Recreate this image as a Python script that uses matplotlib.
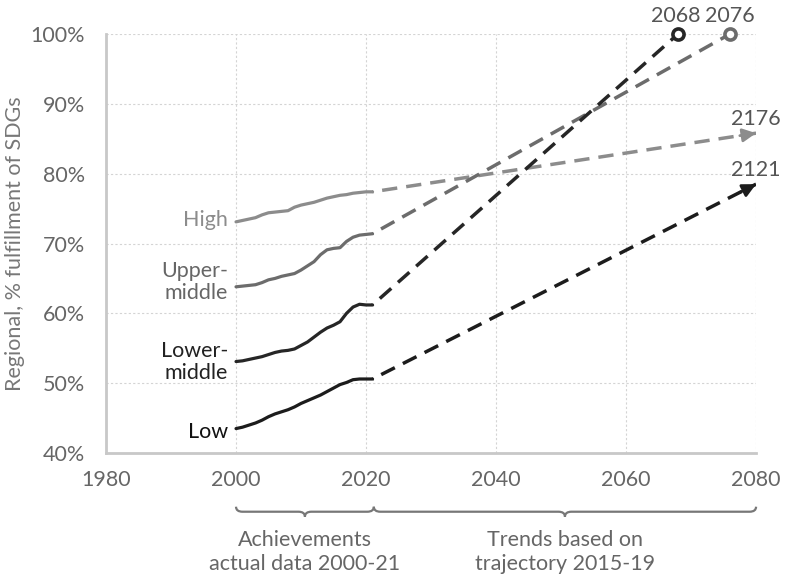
import matplotlib
matplotlib.use("Agg")
import matplotlib.pyplot as plt
from matplotlib.path import Path
from matplotlib.patches import PathPatch
from matplotlib.transforms import blended_transform_factory
import numpy as np

plt.rcParams['font.family'] = ['Lato', 'DejaVu Sans']

# actual data 2000-21
years = np.arange(2000, 2022)
high = [73.1, 73.3, 73.5, 73.7, 74.1, 74.4, 74.5, 74.6, 74.7, 75.2, 75.5,
        75.7, 75.9, 76.2, 76.5, 76.7, 76.9, 77.0, 77.2, 77.3, 77.4, 77.4]
upper_middle = [63.8, 63.9, 64.0, 64.1, 64.4, 64.8, 65.0, 65.3, 65.5, 65.7, 66.2,
                66.8, 67.4, 68.4, 69.1, 69.3, 69.4, 70.3, 70.9, 71.2, 71.3, 71.4]
lower_middle = [53.1, 53.2, 53.4, 53.6, 53.8, 54.1, 54.4, 54.6, 54.7, 54.9, 55.4,
                55.9, 56.6, 57.3, 57.9, 58.3, 58.8, 60.0, 60.9, 61.3, 61.2, 61.2]
low = [43.5, 43.7, 44.0, 44.3, 44.7, 45.2, 45.6, 45.9, 46.2, 46.6, 47.1,
       47.5, 47.9, 48.3, 48.8, 49.3, 49.8, 50.1, 50.5, 50.6, 50.6, 50.6]

# trend projections (end point of the dashed line) and year SDGs reached
group_names = ["High", "Upper-\nmiddle", "Lower-\nmiddle", "Low"]
series = [high, upper_middle, lower_middle, low]
proj_end_year = [2080, 2076, 2068, 2080]
proj_end_value = [85.8, 100.0, 100.0, 78.5]
reach_year = ["2176", "2076", "2068", "2121"]
colors = ["#8c8c8c", "#6c6c6c", "#262626", "#1c1c1c"]
label_colors = ["#8c8c8c", "#666666", "#222222", "#111111"]
label_y = [73.3, 64.5, 53.0, 43.0]

FS = 15.5

fig = plt.figure(figsize=(7.87, 5.76), dpi=100)
ax = fig.add_axes([0.1347, 0.2135, 0.826, 0.7275])

for vals, end_x, end_y, reach, c in zip(series, proj_end_year, proj_end_value, reach_year, colors):
    ax.plot(years, vals, color=c, lw=2.3, solid_capstyle='round', zorder=3)
    ax.plot([years[-1], end_x], [vals[-1], end_y], color=c, lw=2.5,
            linestyle=(4.2, (4.4, 2.6)), zorder=3)
    if end_y >= 100:
        ax.plot(end_x, end_y, 'o', ms=8, mfc='white', mec=c, mew=2.6, zorder=5, clip_on=False)
        dx = -2 if reach == "2068" else 0
        ax.annotate(reach, (end_x, end_y), xytext=(dx, 13), textcoords='offset points',
                    ha='center', va='center', fontsize=FS, color='#555555')
    else:
        slope = (end_y - vals[-1]) / (end_x - years[-1])
        ax.annotate('', xy=(end_x, end_y), xytext=(end_x - 2.5, end_y - 2.5 * slope),
                    arrowprops=dict(arrowstyle='-|>', color=c, lw=2.0, mutation_scale=20,
                                    shrinkA=0, shrinkB=0), zorder=5, annotation_clip=False)
        ax.annotate(reach, (end_x, end_y), xytext=(0, 10), textcoords='offset points',
                    ha='center', va='center', fontsize=FS, color='#555555')

for name, y, c in zip(group_names, label_y, label_colors):
    ax.text(1998.8, y, name, ha='right', va='center', fontsize=FS, color=c,
            linespacing=1.1)

ax.set_xlim(1980, 2080)
ax.set_ylim(40, 100)
ax.set_xticks([1980, 2000, 2020, 2040, 2060, 2080])
ax.set_yticks([40, 50, 60, 70, 80, 90, 100])
ax.set_yticklabels([f"{v}%" for v in range(40, 101, 10)])
ax.tick_params(length=0, labelsize=FS, labelcolor='#666666')
ax.tick_params(axis='y', pad=15)
ax.tick_params(axis='x', pad=12)
ax.grid(True, color='#d4d4d4', lw=0.8, linestyle=(0, (2, 2)))
ax.set_axisbelow(True)
for s in ['top', 'right']:
    ax.spines[s].set_visible(False)
for s in ['left', 'bottom']:
    ax.spines[s].set_color('#c8c8c8')
    ax.spines[s].set_linewidth(2)
ax.set_ylabel("Regional, % fulfillment of SDGs", fontsize=FS, color='#777777', labelpad=4)

# braces below the x axis
trans = blended_transform_factory(ax.transData, fig.transFigure)


def brace(x0, x1, y_top=0.1203, h=0.0174, r=1.0, color='#777777'):
    xm = (x0 + x1) / 2
    ymid = y_top - h / 2
    ytip = y_top - h
    verts = [(x0, y_top), (x0, ymid), (x0 + r, ymid), (xm - r, ymid),
             (xm, ymid), (xm, ytip), (xm, ymid), (xm + r, ymid),
             (x1 - r, ymid), (x1, ymid), (x1, y_top)]
    codes = [Path.MOVETO, Path.CURVE3, Path.CURVE3, Path.LINETO,
             Path.CURVE3, Path.CURVE3, Path.CURVE3, Path.CURVE3,
             Path.LINETO, Path.CURVE3, Path.CURVE3]
    fig.add_artist(PathPatch(Path(verts, codes), transform=trans, fc='none',
                             ec=color, lw=1.6, clip_on=False))
    return xm


m1 = brace(2000, 2021.2)
m2 = brace(2021.2, 2080)
fig.text(m1, 0.079, "Achievements\nactual data 2000-21", transform=trans, ha='center', va='top',
         fontsize=FS, color='#666666', linespacing=1.25)
fig.text(m2, 0.079, "Trends based on\ntrajectory 2015-19", transform=trans, ha='center', va='top',
         fontsize=FS, color='#666666', linespacing=1.25)

fig.savefig("out.png", dpi=100)
